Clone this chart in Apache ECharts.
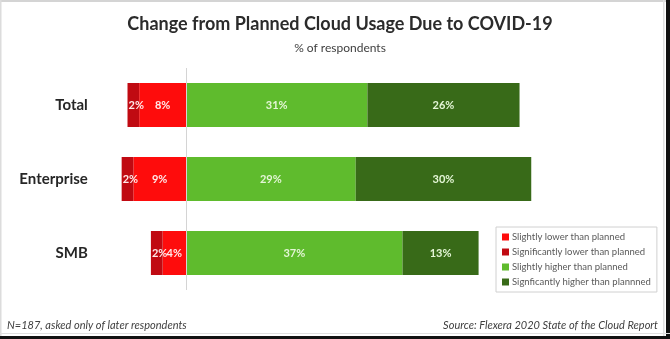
<!DOCTYPE html>
<html>
<head>
<meta charset="utf-8">
<script src="https://cdn.jsdelivr.net/npm/echarts@6/dist/echarts.min.js"></script>
<style>html,body{margin:0;padding:0;background:#fff;}#c{width:670px;height:339px;}</style>
</head>
<body>
<div id="c"></div>
<script>
var categories = ['Total', 'Enterprise', 'SMB'];
var slightlyLower = [-8, -9, -4];
var significantlyLower = [-2, -2, -2];
var slightlyHigher = [31, 29, 37];
var significantlyHigher = [26, 30, 13];
var seriesNames = ['Slightly lower than planned', 'Significantly lower than planned', 'Slightly higher than planned', 'Signficantly higher than plannned'];

var FONT = 'Lato, "Open Sans", sans-serif';
var chart = echarts.init(document.getElementById('c'));
function lab(color, pos) {
  return {
    show: true, position: pos || 'inside', distance: 1, color: color, fontFamily: FONT, fontWeight: 'bold', fontSize: 11,
    overflow: 'none',
    formatter: function (p) { return Math.abs(p.value) + '%'; }
  };
}
chart.setOption({
  animation: false,
  backgroundColor: '#fff',
  title: [
    { text: 'Change from Planned Cloud Usage Due to COVID-19', left: 335, top: 10, textAlign: 'center',
      textStyle: { fontFamily: FONT, fontWeight: 'bold', fontSize: 18, color: '#2b2b2b' } },
    { text: '% of respondents', left: 335, top: 37, textAlign: 'center',
      textStyle: { fontFamily: FONT, fontWeight: 'normal', fontSize: 12, color: '#404040' } }
  ],
  legend: {
    orient: 'vertical', left: 496, top: 227, padding: [4, 6, 4, 6],
    borderColor: '#d0d0d0', borderWidth: 1,
    itemWidth: 7, itemHeight: 7, itemGap: 3,
    icon: 'rect',
    data: seriesNames,
    textStyle: { fontFamily: FONT, fontSize: 9.5, lineHeight: 12, color: '#595959', padding: [0, 0, 0, -2] }
  },
  grid: { left: 115.8, right: 132.9, top: 68, bottom: 49, containLabel: false },
  xAxis: { type: 'value', min: -12, max: 60, show: false },
  yAxis: {
    type: 'category', data: categories, inverse: true,
    axisLine: { show: false }, axisTick: { show: false },
    axisLabel: { margin: 28, fontFamily: FONT, fontWeight: 'bold', fontSize: 15, color: '#262626' }
  },
  series: [
    { name: seriesNames[0], type: 'bar', stack: 'a', data: slightlyLower, barWidth: 44,
      itemStyle: { color: '#fe0c0c' }, label: lab('#ffe9e9'),
      markLine: { silent: true, symbol: 'none', label: { show: false },
        lineStyle: { color: '#d4d4d4', width: 1, type: 'solid' }, data: [{ xAxis: 0 }] } },
    { name: seriesNames[1], type: 'bar', stack: 'a', data: significantlyLower,
      itemStyle: { color: '#c00a12' }, label: lab('#ffe9e9', 'insideLeft') },
    { name: seriesNames[2], type: 'bar', stack: 'a', data: slightlyHigher,
      itemStyle: { color: '#5fbb2d' }, label: lab('#e4f6d6') },
    { name: seriesNames[3], type: 'bar', stack: 'a', data: significantlyHigher,
      itemStyle: { color: '#386a18' }, label: lab('#e4f6d6') }
  ],
  graphic: [
    { type: 'text', left: 7, top: 320, style: { text: 'N=187, asked only of later respondents',
      font: 'italic 11px ' + FONT, fill: '#404040' } },
    { type: 'text', right: 12, top: 320, style: { text: 'Source: Flexera 2020 State of the Cloud Report',
      font: 'italic 11px ' + FONT, fill: '#404040' } },
    { type: 'rect', shape: { x: 0, y: 0, width: 670, height: 2 }, style: { fill: '#d4d4d4' } },
    { type: 'rect', shape: { x: 0, y: 0, width: 1.5, height: 339 }, style: { fill: '#dcdcdc' } },
    { type: 'rect', shape: { x: 663, y: 0, width: 1.5, height: 339 }, style: { fill: '#e0e0e0' } },
    { type: 'rect', shape: { x: 666, y: 0, width: 4, height: 339 }, style: { fill: '#111' } },
    { type: 'rect', shape: { x: 0, y: 333, width: 670, height: 1 }, style: { fill: '#e0e0e0' } },
    { type: 'rect', shape: { x: 0, y: 336, width: 670, height: 3 }, style: { fill: '#111' } }
  ]
});
</script>
</body>
</html>
